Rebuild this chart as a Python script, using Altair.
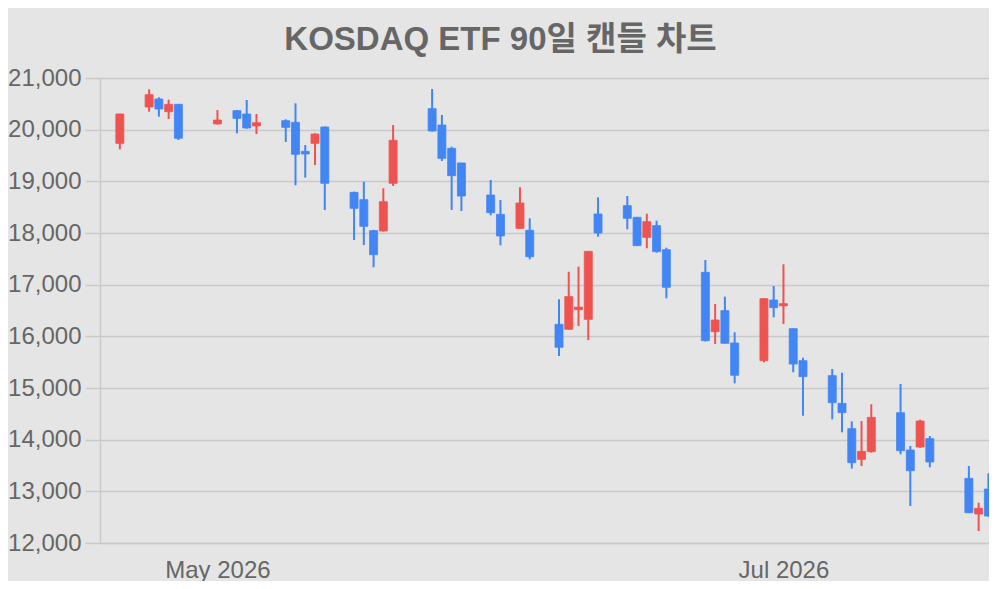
import altair as alt
import pandas as pd

dates = ["2026-04-24", "2026-04-27", "2026-04-28", "2026-04-29", "2026-04-30",
         "2026-05-04", "2026-05-06", "2026-05-07", "2026-05-08",
         "2026-05-11", "2026-05-12", "2026-05-13", "2026-05-14", "2026-05-15",
         "2026-05-18", "2026-05-19", "2026-05-20", "2026-05-21", "2026-05-22",
         "2026-05-26", "2026-05-27", "2026-05-28", "2026-05-29",
         "2026-06-01", "2026-06-02", "2026-06-04", "2026-06-05",
         "2026-06-08", "2026-06-09", "2026-06-10", "2026-06-11", "2026-06-12",
         "2026-06-15", "2026-06-16", "2026-06-17", "2026-06-18", "2026-06-19",
         "2026-06-23", "2026-06-24", "2026-06-25", "2026-06-26",
         "2026-06-29", "2026-06-30", "2026-07-01", "2026-07-02", "2026-07-03",
         "2026-07-06", "2026-07-07", "2026-07-08", "2026-07-09", "2026-07-10",
         "2026-07-13", "2026-07-14", "2026-07-15", "2026-07-16",
         "2026-07-20", "2026-07-21", "2026-07-22"]

opens = [19736, 20439, 20594, 20348, 20490,
         20110, 20368, 20303, 20071,
         20174, 20142, 19580, 19736, 20052,
         18787, 18645, 18045, 18039, 18962,
         20406, 20090, 19639, 19355,
         18735, 18361, 18090, 18052,
         16233, 16136, 16515, 16329, 18368,
         18529, 18304, 17916, 18142, 17677,
         17239, 16090, 16497, 15871,
         15529, 16703, 16590, 16148, 15529,
         15239, 14703, 14213, 13620, 13767,
         14522, 13800, 13858, 14019,
         13252, 12561, 13045]

highs = [20310, 20781, 20626, 20581, 20500,
         20381, 20380, 20574, 20303,
         20200, 20510, 19703, 19930, 20060,
         18800, 18993, 18060, 18865, 20090,
         20787, 20284, 19671, 19360,
         19026, 18639, 18884, 18284,
         16717, 17251, 17348, 17650, 18690,
         18716, 18310, 18374, 18239, 17716,
         17477, 16626, 16768, 16078,
         16740, 16974, 17394, 16150, 15587,
         15368, 15297, 14355, 14361, 14684,
         15077, 13877, 14387, 14071,
         13490, 12781, 13349]

lows = [19620, 20348, 20251, 20206, 19800,
        20100, 19929, 20020, 19916,
        19761, 18923, 19071, 19316, 18445,
        17865, 17768, 17336, 18030, 18910,
        19960, 19394, 18445, 18426,
        18342, 17762, 18080, 17490,
        15619, 16130, 16200, 15929, 17929,
        18071, 17750, 17704, 17620, 16736,
        15900, 15852, 15860, 15091,
        15497, 16368, 16239, 15304, 14464,
        14394, 14142, 13439, 13490, 13750,
        13716, 12716, 13840, 13465,
        12580, 12232, 12510]

closes = [20303, 20677, 20400, 20490, 19833,
          20187, 20219, 20032, 20135,
          20045, 19523, 19530, 19916, 18962,
          18477, 18129, 17580, 18606, 19794,
          19974, 19445, 19110, 18716,
          18393, 17942, 18581, 17541,
          15788, 16768, 16565, 17645, 18000,
          18284, 17755, 18219, 17639, 16949,
          15916, 16316, 15865, 15246,
          16729, 16555, 16632, 15464, 15219,
          14716, 14522, 13555, 13774, 14432,
          13787, 13400, 14361, 13568,
          12587, 12671, 12523]

y_ticks = [12000, 13000, 14000, 15000, 16000, 17000, 18000, 19000, 20000, 21000]

df = pd.DataFrame({"date": dates, "open": opens, "high": highs,
                   "low": lows, "close": closes})
df["dir"] = ["up" if c >= o else "down" for o, c in zip(df["open"], df["close"])]

BG = "#e5e5e5"
GRID = "#c9c9c9"
TEXT = "#666666"
RED = "#ef5350"
BLUE = "#4285f4"
FONT = "Liberation Sans, Noto Sans CJK KR, sans-serif"

x_enc = alt.X(
    "date:T",
    title=None,
    scale=alt.Scale(
        type="utc",
        domain=[alt.DateTime(year=2026, month=4, date=22, hours=11, minutes=30, utc=True),
                alt.DateTime(year=2026, month=7, date=21, hours=13, minutes=12, utc=True)],
    ),
    axis=alt.Axis(
        values=[alt.DateTime(year=2026, month=5, date=4, utc=True),
                alt.DateTime(year=2026, month=7, date=1, utc=True)],
        labelExpr="utcFormat(datum.value, '%b %Y')",
        grid=False,
        ticks=False,
        labelFlush=False,
        labelBaseline="alphabetic",
        labelPadding=34,
        labelFontSize=24,
        labelColor=TEXT,
        labelFont=FONT,
        domainColor=GRID,
        domainWidth=1.5,
    ),
)

y_scale = alt.Scale(domain=[12000, 21000], nice=False, zero=False)
y_axis = alt.Axis(
    values=y_ticks,
    format=",d",
    grid=True,
    gridColor=GRID,
    gridWidth=1.5,
    tickSize=15,
    tickColor=GRID,
    tickWidth=1.5,
    labelPadding=4,
    labelFontSize=24,
    labelColor=TEXT,
    labelFont=FONT,
    domainColor=GRID,
    domainWidth=1.5,
)

color = alt.Color("dir:N", scale=alt.Scale(domain=["up", "down"], range=[RED, BLUE]), legend=None)

wicks = alt.Chart(df).mark_rule(strokeWidth=2, clip=True).encode(
    x=x_enc,
    y=alt.Y("low:Q", scale=y_scale, axis=y_axis, title=None),
    y2="high:Q",
    color=color,
)

bodies = alt.Chart(df).mark_bar(width=8, strokeWidth=0.8, clip=True).encode(
    x=x_enc,
    y=alt.Y("open:Q", scale=y_scale, title=None),
    y2="close:Q",
    color=color,
    stroke=color,
)

chart = alt.layer(wicks, bodies).properties(
    width=889,
    height=465,
    autosize=alt.AutoSizeParams(type="none"),
    padding={"left": 92, "top": 70, "right": 0, "bottom": 38},
    background=BG,
    title=alt.TitleParams(
        text="KOSDAQ ETF 90일 캔들 차트",
        fontSize=33,
        fontWeight="bold",
        color=TEXT,
        font=FONT,
        anchor="middle",
        frame="group",
        dx=-44,
        dy=33,
        baseline="alphabetic",
        offset=16,
    ),
).configure_view(fill=BG, strokeWidth=0)

chart.save("out.html", embed_options={"renderer": "svg", "actions": False})
